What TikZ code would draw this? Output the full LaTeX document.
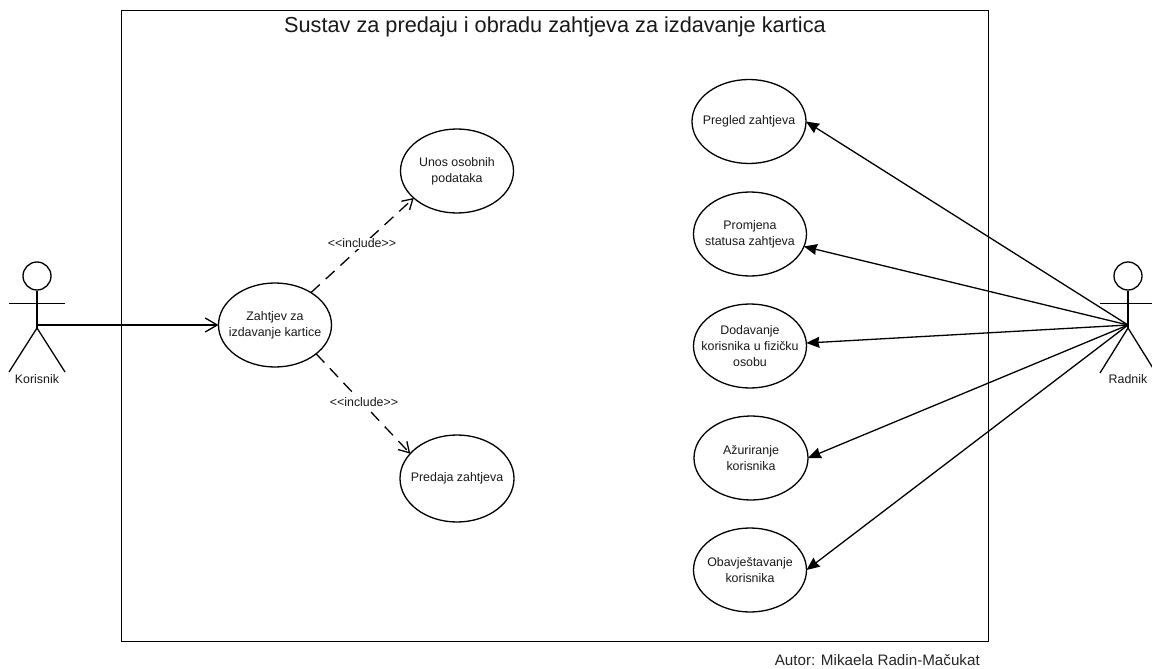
\documentclass[tikz,border=0pt]{standalone}
\usepackage{fontspec}
\setmainfont[Ligatures=NoCommon]{Liberation Sans}
\usetikzlibrary{arrows.meta,shapes.geometric}
\tikzset{
  x=1pt,y=-1pt,
  linecol/.style={draw=black,line width=1.3pt},
  usecase/.style={ellipse,linecol,fill=white,inner xsep=-16pt,inner ysep=-16pt,outer sep=0pt,align=center,font=\fontsize{12.4}{16}\selectfont,text=black!90},
  small/.style={font=\fontsize{12.4}{15}\selectfont,text=black!90,inner sep=0pt},
  actorline/.style={linecol},
  assoc/.style={linecol,-{Stealth[length=13pt,width=11pt,inset=1pt]}},
  openarrow/.style={linecol,-{Straight Barb[length=12pt,width=14pt]}},
  dep/.style={linecol,dash pattern=on 12pt off 8pt,-{Straight Barb[length=10pt,width=12pt]}},
}
\begin{document}
\begin{tikzpicture}
\useasboundingbox (0,0) rectangle (1152,669);
\fill[white] (0,0) rectangle (1152,669);
\node[draw=black,line width=1.3pt,minimum width=867pt,minimum height=631pt,inner sep=0pt,anchor=north west] (sys) at (121,10) {};
\node[font=\fontsize{21.7}{26}\selectfont,text=black!90,inner sep=0pt] (title) at (555,27) {Sustav za predaju i obradu zahtjeva za izdavanje kartica};
\node[font=\fontsize{15.2}{18}\selectfont,text=black!85,inner sep=0pt,anchor=east] (author) at (980,660) {Autor: Mikaela Radin-Mačukat};

% actor Korisnik
\node[circle,linecol,minimum size=28pt,inner sep=0pt] (khead) at (37,276) {};
\coordinate (khip) at (37,325);
\coordinate (kbody) at (37,328);
\coordinate (karml) at (9,303.5);
\coordinate (karmr) at (65,303.5);
\coordinate (kfootl) at (9,372);
\coordinate (kfootr) at (65,372);
\draw[actorline] (khead.south) -- (kbody);
\draw[actorline] (karml) -- (karmr);
\draw[actorline] (kfootl) -- (kbody) -- (kfootr);
\node[small] (klabel) at (37,379) {Korisnik};

% actor Radnik
\node[circle,linecol,minimum size=28pt,inner sep=0pt] (rhead) at (1128,276) {};
\coordinate (rhip) at (1128,325);
\coordinate (rbody) at (1128,328);
\coordinate (rarml) at (1100,303.5);
\coordinate (rarmr) at (1156,303.5);
\coordinate (rfootl) at (1100,373);
\coordinate (rfootr) at (1156,373);
\draw[actorline] (rhead.south) -- (rbody);
\draw[actorline] (rarml) -- (rarmr);
\draw[actorline] (rfootl) -- (rbody) -- (rfootr);
\node[small] (rlabel) at (1128,379) {Radnik};

% use cases
\node[usecase,minimum width=113pt,minimum height=84pt] (zahtjev) at (275,325) {Zahtjev za\\izdavanje kartice};
\node[usecase,minimum width=113pt,minimum height=84pt] (unos) at (457,171) {Unos osobnih\\podataka};
\node[usecase,minimum width=114pt,minimum height=87pt] (predaja) at (457,478.5) {Predaja zahtjeva};
\node[usecase,minimum width=114pt,minimum height=84pt] (pregled) at (749,121.5) {Pregled zahtjeva};
\node[usecase,minimum width=113pt,minimum height=84pt] (promjena) at (750,234) {Promjena\\statusa zahtjeva};
\node[usecase,minimum width=113pt,minimum height=84pt] (dodavanje) at (750,346) {Dodavanje\\korisnika u fizičku\\osobu};
\node[usecase,minimum width=114pt,minimum height=84pt] (azur) at (751,458) {Ažuriranje\\korisnika};
\node[usecase,minimum width=113pt,minimum height=84pt] (obav) at (750,570) {Obavještavanje\\korisnika};

% connectors
\draw[openarrow] (khip) -- (zahtjev.west);
\draw[dep] (zahtjev.42) -- (unos.212);
\draw[dep] (zahtjev.-35) -- (predaja.152);
\draw[assoc] (rhip) -- (pregled.east);
\draw[assoc] (rhip) -- (promjena.-13);
\draw[assoc] (rhip) -- (dodavanje.3);
\draw[assoc] (rhip) -- (azur.east);
\draw[assoc] (rhip) -- (obav.east);

\node[small,fill=white,inner xsep=0pt,inner ysep=1pt] (inc1) at (362,243.5) {<{}<include>{}>};
\node[small,fill=white,inner xsep=0pt,inner ysep=1pt] (inc2) at (364,402.5) {<{}<include>{}>};
\end{tikzpicture}
\end{document}
